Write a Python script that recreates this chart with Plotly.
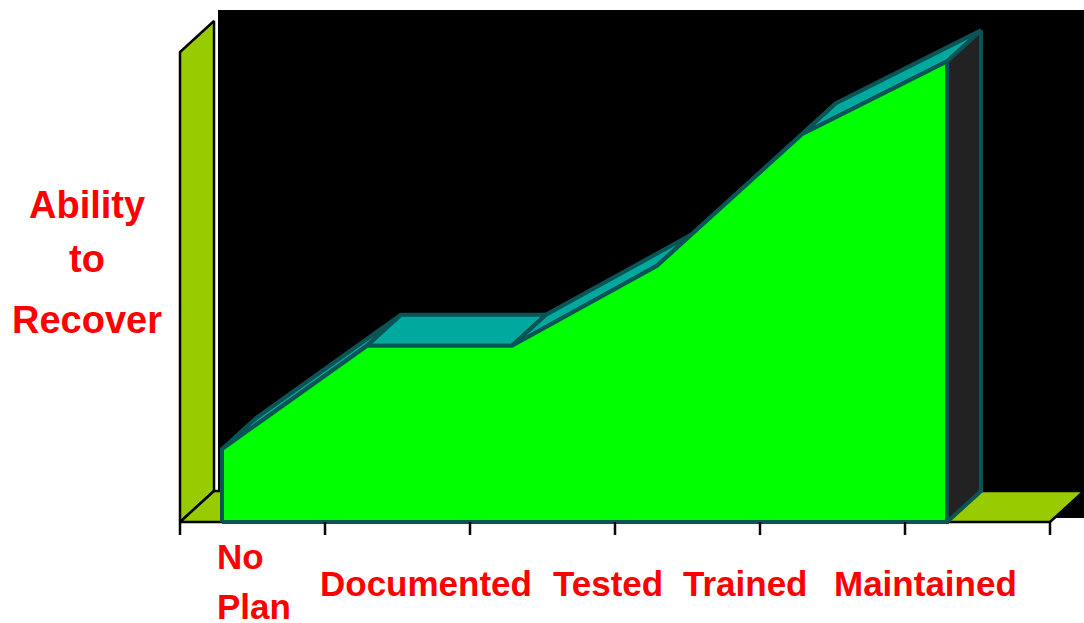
import numpy as np
import plotly.graph_objects as go

# Stages of recovery readiness written beneath the floor
stage_labels = ["No Plan", "Documented", "Tested", "Trained", "Maintained"]
# Ability-to-recover level at each of the six category slots
ability = [15.5, 37.5, 37.5, 54.5, 82.5, 98]
wall_height = 100
y_title_lines = ["Ability", "to", "Recover"]

# ---- canvas / pseudo-3D geometry ----
W, H = 1084, 623
PX_PER_X = 145.0          # pixels per category slot
PX_PER_Y = 4.7            # pixels per value unit
X0_PX, Y0_PX = 180, 522   # where slot 0 / value 0 sits on the canvas
DX = 34 / PX_PER_X        # depth offset (to the right)
DY = 31 / PX_PER_Y        # depth offset (upwards)
SERIES_SHIFT = 42 / PX_PER_X

x_range = [-X0_PX / PX_PER_X, (W - X0_PX) / PX_PER_X]
y_range = [-(H - Y0_PX) / PX_PER_Y, Y0_PX / PX_PER_Y]


def vy(px):
    """canvas row -> value units"""
    return (Y0_PX - px) / PX_PER_Y


def vx(px):
    """canvas column -> slot units"""
    return (px - X0_PX) / PX_PER_X


n_slots = len(ability)
xs = list(np.arange(n_slots) + SERIES_SHIFT)
vals = list(ability)

OLIVE = "#99CC00"
GREEN = "#00FF00"
EDGE = "#0A5456"
TOP = "#00A99D"
SIDE = "#222222"
RED = "#FF0000"
FONT = "Liberation Sans, Arial, sans-serif"


def poly(px, py, fill, line_color, line_width):
    return go.Scatter(
        x=list(px) + [px[0]], y=list(py) + [py[0]],
        mode="lines", fill="toself", fillcolor=fill,
        line=dict(color=line_color, width=line_width),
        hoverinfo="skip", showlegend=False,
    )


fig = go.Figure()

# side wall and floor
fig.add_trace(poly([0, 0, DX, DX], [0, wall_height, wall_height + DY, DY], OLIVE, "black", 2.5))
fig.add_trace(poly([0, n_slots, n_slots + DX, DX], [0, 0, DY, DY], OLIVE, "black", 2.5))

# top surface of the area, one facet per segment
for i in range(n_slots - 1):
    fig.add_trace(poly(
        [xs[i], xs[i + 1], xs[i + 1] + DX, xs[i] + DX],
        [vals[i], vals[i + 1], vals[i + 1] + DY, vals[i] + DY],
        TOP, EDGE, 4))

# right end face
fig.add_trace(poly(
    [xs[-1], xs[-1], xs[-1] + DX, xs[-1] + DX],
    [0, vals[-1], vals[-1] + DY, DY],
    SIDE, EDGE, 4))

# front face of the area
fig.add_trace(poly([xs[0]] + xs + [xs[-1]], [0] + vals + [0], GREEN, EDGE, 4))

# category tick marks under the floor edge
tx, ty = [], []
for k in range(n_slots + 1):
    tx += [k, k, None]
    ty += [0, -13 / PX_PER_Y, None]
fig.add_trace(go.Scatter(x=tx, y=ty, mode="lines", line=dict(color="black", width=2.5),
                         hoverinfo="skip", showlegend=False))

annotations = []
label_font = dict(family=FONT, size=35, color=RED, weight="bold")

# stage labels; multi-word labels stack one word per line
label_x = [vx(215), vx(426), vx(608), vx(745), vx(925)]
label_anchor = ["left", "center", "center", "center", "center"]
first_row, row_step = 583, 50
for lab, lx, anc in zip(stage_labels, label_x, label_anchor):
    words = lab.split(" ") if anc == "left" else [lab]
    if len(words) > 1:
        rows = [first_row - 27 + row_step * j for j in range(len(words))]
    else:
        rows = [first_row]
    for w, r in zip(words, rows):
        annotations.append(dict(
            x=lx, y=vy(r), xref="x", yref="y", text=w, showarrow=False,
            xanchor=anc, yanchor="middle", font=label_font,
        ))

# vertical-axis caption, one line each
title_rows = [205, 259, 320]
for line, r in zip(y_title_lines, title_rows):
    annotations.append(dict(
        x=vx(87), y=vy(r), xref="x", yref="y", text=line, showarrow=False,
        xanchor="center", yanchor="middle",
        font=dict(family=FONT, size=38, color=RED, weight="bold"),
    ))

fig.update_layout(
    width=W, height=H, autosize=False,
    margin=dict(l=0, r=0, t=0, b=0, pad=0),
    paper_bgcolor="white", plot_bgcolor="white",
    xaxis=dict(range=x_range, visible=False, domain=[0, 1], fixedrange=True),
    yaxis=dict(range=y_range, visible=False, domain=[0, 1], fixedrange=True),
    annotations=annotations,
    shapes=[dict(type="rect", xref="paper", yref="paper", layer="below",
                 x0=218 / W, x1=1, y0=(H - 518) / H, y1=(H - 10) / H,
                 fillcolor="black", line=dict(width=0))],
    showlegend=False,
)

fig.write_html("out.html")
